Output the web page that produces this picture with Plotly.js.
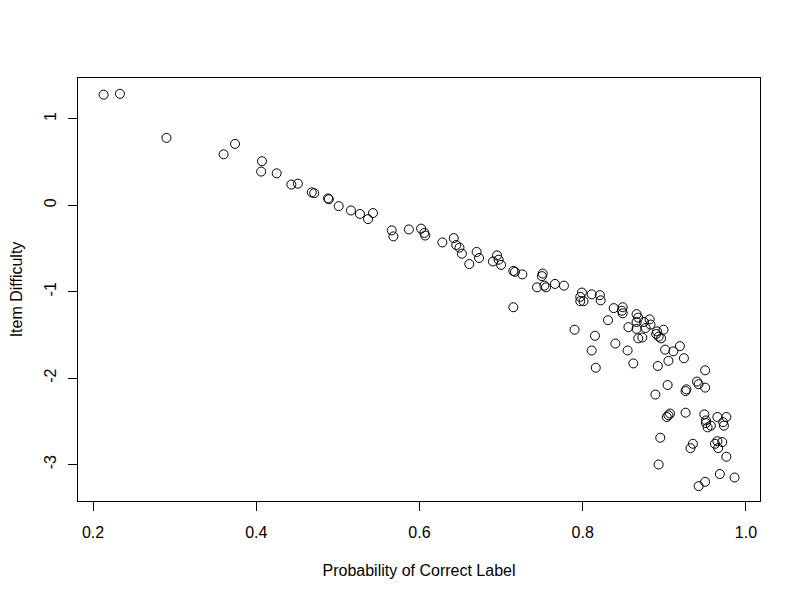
<!DOCTYPE html>
<html>
<head>
<meta charset="utf-8">
<script src="https://cdn.plot.ly/plotly-3.0.1.min.js"></script>
<style>
  html, body { margin: 0; padding: 0; background: #fff; }
  #plot { width: 800px; height: 600px; }
</style>
</head>
<body>
<div id="plot"></div>
<script>
// Probability that an item receives its correct label, per item
const probCorrect = [
  0.213, 0.233, 0.290, 0.374, 0.360, 0.407, 0.406, 0.425, 0.443, 0.451,
  0.468, 0.471, 0.488, 0.489, 0.501, 0.516, 0.527, 0.543, 0.537, 0.566,
  0.568, 0.587, 0.602, 0.606, 0.607, 0.628, 0.642, 0.645, 0.649, 0.652,
  0.661, 0.670, 0.673, 0.690, 0.695, 0.697, 0.700, 0.715, 0.717, 0.726,
  0.715, 0.751, 0.750, 0.744, 0.753, 0.755, 0.766, 0.777, 0.799, 0.797,
  0.797, 0.801, 0.811, 0.821, 0.822, 0.838, 0.831, 0.790, 0.815, 0.849,
  0.848, 0.849, 0.866, 0.868, 0.866, 0.875, 0.882, 0.883, 0.856, 0.866,
  0.877, 0.891, 0.899, 0.890, 0.893, 0.896, 0.868, 0.873, 0.840, 0.811,
  0.855, 0.901, 0.911, 0.919, 0.924, 0.905, 0.862, 0.816, 0.892, 0.950,
  0.940, 0.942, 0.950, 0.904, 0.927, 0.926, 0.889, 0.903, 0.905, 0.907,
  0.926, 0.949, 0.951, 0.951, 0.953, 0.957, 0.965, 0.976, 0.972, 0.973,
  0.895, 0.935, 0.932, 0.962, 0.965, 0.971, 0.966, 0.976, 0.893, 0.968,
  0.986, 0.950, 0.942
];

// Estimated difficulty of the same items
const itemDifficulty = [
  1.28, 1.29, 0.78, 0.71, 0.59, 0.51, 0.39, 0.37, 0.24, 0.25,
  0.15, 0.14, 0.08, 0.07, -0.01, -0.06, -0.10, -0.09, -0.16, -0.29,
  -0.36, -0.28, -0.27, -0.32, -0.35, -0.43, -0.38, -0.46, -0.49, -0.56,
  -0.68, -0.54, -0.61, -0.65, -0.58, -0.63, -0.69, -0.76, -0.77, -0.80,
  -1.18, -0.79, -0.82, -0.95, -0.93, -0.95, -0.91, -0.93, -1.01, -1.06,
  -1.11, -1.11, -1.03, -1.04, -1.10, -1.19, -1.33, -1.44, -1.51, -1.18,
  -1.22, -1.25, -1.26, -1.30, -1.35, -1.35, -1.32, -1.38, -1.41, -1.43,
  -1.42, -1.46, -1.44, -1.49, -1.52, -1.54, -1.54, -1.53, -1.60, -1.68,
  -1.68, -1.67, -1.69, -1.63, -1.77, -1.80, -1.83, -1.88, -1.86, -1.91,
  -2.04, -2.07, -2.11, -2.08, -2.13, -2.15, -2.19, -2.45, -2.43, -2.41,
  -2.40, -2.42, -2.49, -2.52, -2.57, -2.55, -2.45, -2.45, -2.51, -2.55,
  -2.69, -2.76, -2.81, -2.76, -2.73, -2.74, -2.81, -2.91, -3.00, -3.11,
  -3.15, -3.20, -3.25
];

const xTicks = [0.2, 0.4, 0.6, 0.8, 1.0];
const xTickText = ['0.2', '0.4', '0.6', '0.8', '1.0'];
const yTicks = [-3, -2, -1, 0, 1];
const yTickText = ['-3', '-2', '-1', '0', '1'];

const font = { family: 'Liberation Sans, Arial, Helvetica, sans-serif', size: 16, color: '#000' };

const trace = {
  type: 'scatter',
  mode: 'markers',
  x: probCorrect,
  y: itemDifficulty,
  marker: {
    symbol: 'circle-open',
    size: 9,
    color: '#000',
    line: { color: '#000', width: 1 }
  },
  hoverinfo: 'x+y'
};

const layout = {
  width: 800,
  height: 600,
  paper_bgcolor: '#fff',
  plot_bgcolor: '#fff',
  margin: { l: 78, r: 40, t: 78, b: 99, pad: 0 },
  font: font,
  showlegend: false,
  xaxis: {
    range: [0.1816, 1.0172],
    tickvals: xTicks,
    ticktext: xTickText,
    ticks: 'outside',
    ticklen: 9,
    tickwidth: 1,
    tickcolor: '#000',
    ticklabelstandoff: 8,
    showgrid: false,
    zeroline: false,
    showline: true,
    mirror: true,
    linecolor: '#000',
    linewidth: 1,
    tickfont: font,
    title: { text: 'Probability of Correct Label', font: font, standoff: 24 }
  },
  yaxis: {
    range: [-3.422, 1.473],
    tickvals: yTicks,
    ticktext: yTickText,
    tickangle: -90,
    ticks: 'outside',
    ticklen: 9,
    tickwidth: 1,
    tickcolor: '#000',
    ticklabelstandoff: 6,
    showgrid: false,
    zeroline: false,
    showline: true,
    mirror: true,
    linecolor: '#000',
    linewidth: 1,
    tickfont: font,
    title: { text: 'Item Difficulty', font: font, standoff: 14 }
  }
};

Plotly.newPlot('plot', [trace], layout, { displayModeBar: false, staticPlot: true });
</script>
</body>
</html>
